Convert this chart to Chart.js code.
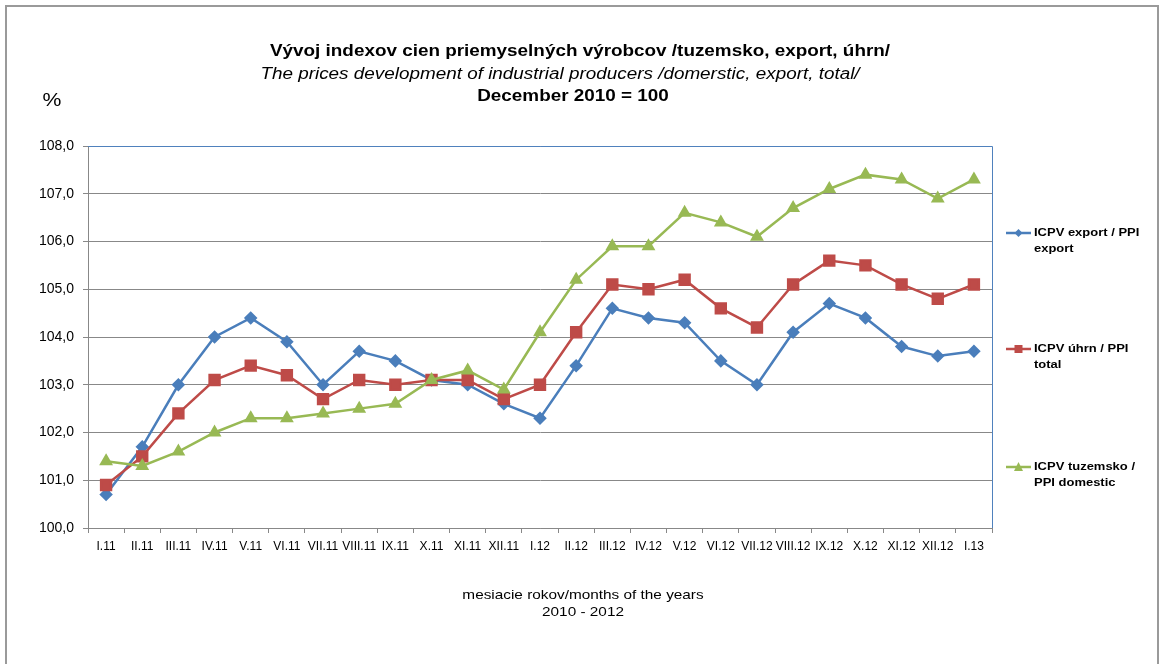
<!DOCTYPE html>
<html>
<head>
<meta charset="utf-8">
<script src="https://cdn.jsdelivr.net/npm/chart.js@4/dist/chart.umd.min.js"></script>
<style>
  body { margin: 0; background: #fff; }
  #wrap { position: relative; width: 1160px; height: 664px; overflow: hidden; background: #fff; }
  #frame { position: absolute; left: 5px; top: 5px; width: 1150px; height: 700px; border: 2px solid #9a9a9a; }
  #chart { position: absolute; left: 0; top: 0; }
</style>
</head>
<body>
<div id="wrap">
  <div id="frame"></div>
  <canvas id="chart" width="1160" height="664"></canvas>
</div>
<script>
// mesiace I.11 - I.13
const months = ["I.11", "II.11", "III.11", "IV.11", "V.11", "VI.11", "VII.11", "VIII.11", "IX.11", "X.11", "XI.11", "XII.11",
  "I.12", "II.12", "III.12", "IV.12", "V.12", "VI.12", "VII.12", "VIII.12", "IX.12", "X.12", "XI.12", "XII.12", "I.13"];

const exportVals = [100.7, 101.7, 103.0, 104.0, 104.4, 103.9, 103.0, 103.7, 103.5, 103.1, 103.0, 102.6,
  102.3, 103.4, 104.6, 104.4, 104.3, 103.5, 103.0, 104.1, 104.7, 104.4, 103.8, 103.6, 103.7];
const totalVals = [100.9, 101.5, 102.4, 103.1, 103.4, 103.2, 102.7, 103.1, 103.0, 103.1, 103.1, 102.7,
  103.0, 104.1, 105.1, 105.0, 105.2, 104.6, 104.2, 105.1, 105.6, 105.5, 105.1, 104.8, 105.1];
const domesticVals = [101.4, 101.3, 101.6, 102.0, 102.3, 102.3, 102.4, 102.5, 102.6, 103.1, 103.3, 102.9,
  104.1, 105.2, 105.9, 105.9, 106.6, 106.4, 106.1, 106.7, 107.1, 107.4, 107.3, 106.9, 107.3];

const seriesNames = [["ICPV export / PPI", "export"], ["ICPV úhrn / PPI", "total"], ["ICPV tuzemsko /", "PPI domestic"]];
const titleLines = ["Vývoj indexov cien priemyselných výrobcov /tuzemsko, export, úhrn/",
  "The prices development of industrial producers /domerstic, export, total/",
  "December 2010 = 100"];
const axisTitle = ["mesiacie rokov/months of the years", "2010 - 2012"];

const blue = "#4A7EBB", red = "#BE4B48", green = "#98B954";
const FONT = "'Liberation Sans', Arial, sans-serif";
const SX = 1.18; // text v povodnom obrazku je roztiahnuty do sirky

function stretchText(ctx, txt, x, y, align) {
  ctx.save();
  ctx.translate(x, y);
  ctx.scale(SX, 1);
  ctx.textAlign = align;
  ctx.fillText(txt, 0, 0);
  ctx.restore();
}

// legenda, nadpisy a modry okraj grafu
const decor = {
  id: "decor",
  beforeDatasetsDraw(chart) {
    const a = chart.chartArea, ctx = chart.ctx;
    ctx.save();
    ctx.strokeStyle = "#4F81BD";
    ctx.lineWidth = 1;
    ctx.beginPath();
    ctx.moveTo(a.left, a.top + 0.5);
    ctx.lineTo(a.right + 0.5, a.top + 0.5);
    ctx.lineTo(a.right + 0.5, a.bottom);
    ctx.stroke();
    ctx.restore();
  },
  afterDraw(chart) {
    const ctx = chart.ctx;
    ctx.save();
    ctx.fillStyle = "#000";
    ctx.textBaseline = "middle";
    ctx.font = "bold 16px " + FONT;
    stretchText(ctx, titleLines[0], 580, 52, "center");
    ctx.font = "italic 16px " + FONT;
    stretchText(ctx, titleLines[1], 560, 75, "center");
    ctx.font = "bold 16px " + FONT;
    stretchText(ctx, titleLines[2], 573, 97, "center");
    ctx.font = "18px " + FONT;
    stretchText(ctx, "%", 52, 101, "center");
    ctx.font = "13px " + FONT;
    stretchText(ctx, axisTitle[0], 583, 595, "center");
    stretchText(ctx, axisTitle[1], 583, 612, "center");

    // legenda
    const ys = [233, 349, 467];
    chart.data.datasets.forEach((ds, i) => {
      const y = ys[i];
      ctx.strokeStyle = ds.borderColor;
      ctx.lineWidth = 2.5;
      ctx.beginPath();
      ctx.moveTo(1006, y);
      ctx.lineTo(1031, y);
      ctx.stroke();
      ctx.fillStyle = ds.borderColor;
      ctx.beginPath();
      if (ds.pointStyle === "rectRot") {
        ctx.moveTo(1018.5, y - 4); ctx.lineTo(1022.5, y); ctx.lineTo(1018.5, y + 4); ctx.lineTo(1014.5, y);
      } else if (ds.pointStyle === "rect") {
        ctx.rect(1014.5, y - 4, 8, 8);
      } else {
        ctx.moveTo(1018.5, y - 5); ctx.lineTo(1023, y + 4); ctx.lineTo(1014, y + 4);
      }
      ctx.closePath();
      ctx.fill();
      ctx.fillStyle = "#000";
      ctx.font = "bold 11px " + FONT;
      stretchText(ctx, seriesNames[i][0], 1034, y, "left");
      stretchText(ctx, seriesNames[i][1], 1034, y + 16, "left");
    });
    ctx.restore();
  }
};

new Chart(document.getElementById("chart"), {
  type: "line",
  data: {
    labels: months,
    datasets: [
      { label: "ICPV export / PPI export", data: exportVals, order: 3,
        borderColor: blue, backgroundColor: blue, pointStyle: "rectRot", pointRadius: 5, borderWidth: 2.5 },
      { label: "ICPV úhrn / PPI total", data: totalVals, order: 2,
        borderColor: red, backgroundColor: red, pointStyle: "rect", pointRadius: 7, borderWidth: 2.5 },
      { label: "ICPV tuzemsko / PPI domestic", data: domesticVals, order: 1,
        borderColor: green, backgroundColor: green, pointStyle: "triangle", pointRadius: 5.5, borderWidth: 2.5 }
    ]
  },
  options: {
    responsive: false,
    animation: false,
    layout: { padding: { top: 146, right: 168, left: 0, bottom: 0 } },
    plugins: { legend: { display: false }, title: { display: false }, tooltip: { enabled: false } },
    elements: { line: { tension: 0 }, point: { borderWidth: 1 } },
    scales: {
      x: {
        offset: true,
        grid: { offset: true, drawOnChartArea: false, tickLength: 5, color: "#888" },
        border: { color: "#888" },
        ticks: { autoSkip: false, maxRotation: 0, color: "#000", padding: 6,
          font: { family: "'Liberation Sans Narrow', 'Liberation Sans', Arial", size: 12 } },
        afterFit(s) { s.height = 136; }
      },
      y: {
        min: 100, max: 108,
        ticks: { stepSize: 1, color: "#000", padding: 9, font: { family: FONT, size: 14 },
          callback: v => v.toFixed(1).replace(".", ",") },
        grid: { color: "#888", tickLength: 5 },
        border: { color: "#888" },
        afterFit(s) { s.width = 88; }
      }
    }
  },
  plugins: [decor]
});
</script>
</body>
</html>
